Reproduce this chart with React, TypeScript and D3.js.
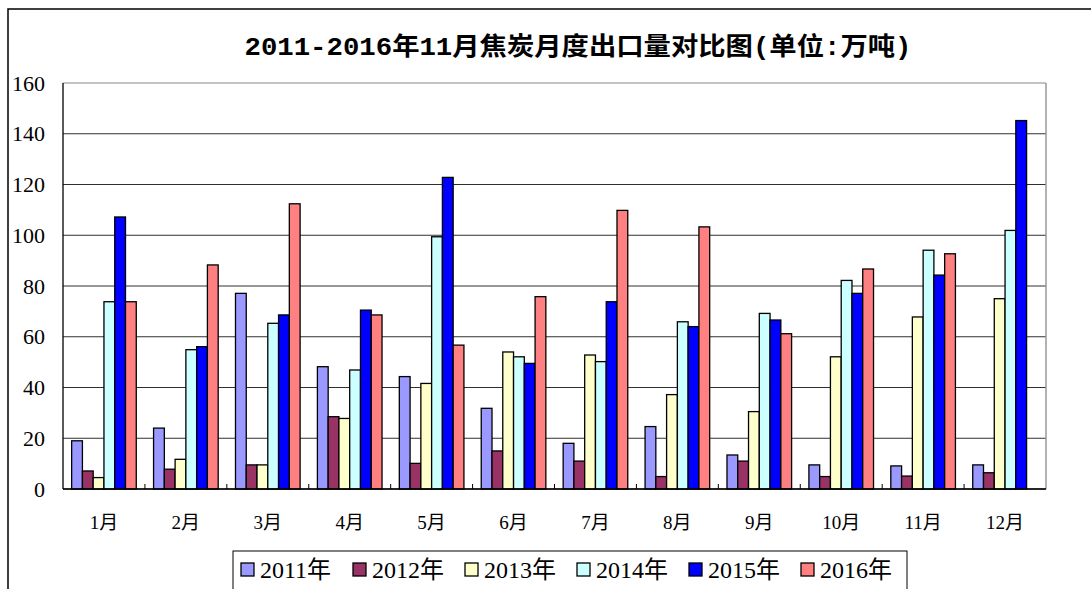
import React from "react";
import * as d3 from "d3";

const months = ["1月", "2月", "3月", "4月", "5月", "6月", "7月", "8月", "9月", "10月", "11月", "12月"];
const seriesNames = ["2011年", "2012年", "2013年", "2014年", "2015年", "2016年"];
const seriesColors = ["#9999FF", "#993366", "#FFFFCC", "#CCFFFF", "#0000FF", "#FF8080"];

const v2011 = [19, 24, 77.1, 48.2, 44.3, 31.8, 18, 24.6, 13.4, 9.5, 9.1, 9.5];
const v2012 = [7.1, 7.8, 9.5, 28.5, 10.1, 15, 11, 4.9, 11, 4.9, 5.1, 6.4];
const v2013 = [4.5, 11.7, 9.5, 27.8, 41.6, 54, 52.8, 37.2, 30.5, 52.1, 67.8, 75];
const v2014 = [73.8, 54.9, 65.3, 46.9, 99.4, 52.1, 50.2, 65.9, 69.2, 82.2, 94.1, 101.9];
const v2015 = [107.2, 56.1, 68.6, 70.5, 122.8, 49.5, 73.8, 64, 66.6, 77.1, 84.3, 145.2];
const v2016: (number | null)[] = [73.8, 88.3, 112.4, 68.6, 56.7, 75.8, 109.8, 103.3, 61.2, 86.7, 92.7, null];
const seriesValues = [v2011, v2012, v2013, v2014, v2015, v2016];

const yTicks = [0, 20, 40, 60, 80, 100, 120, 140, 160];

const title = "2011-2016年11月焦炭月度出口量对比图(单位:万吨)";

export default function App() {
  const left = 63, right = 1046, top = 83, bottom = 489;
  const x = d3.scaleBand<string>().domain(months).range([left, right]).paddingInner(0).paddingOuter(0);
  const gap = 17.3;
  const xs = d3.scaleBand<string>().domain(seriesNames).range([gap / 2, x.bandwidth() - gap / 2]).padding(0);
  const y = d3.scaleLinear().domain([0, 160]).range([bottom, top]);

  const serif = "'Liberation Serif', 'Noto Sans CJK SC', serif";
  const mono = "'Liberation Mono', 'Noto Sans CJK SC', monospace";
  const legendX0 = 241;
  const legendStep = 112;

  return (
    <svg width={1091} height={589} style={{ position: "absolute", left: 0, top: 0, background: "#fff" }}>
      <rect x={0} y={0} width={1091} height={589} fill="#fff" />
      <rect x={8} y={9} width={1100} height={600} fill="#fff" stroke="#000" strokeWidth={1.5} />
      <text x={578} y={55} textAnchor="middle" style={{ fontFamily: mono, fontWeight: "bold", fontSize: 25 }} textLength={667} lengthAdjust="spacingAndGlyphs" fill="#000">
        {title}
      </text>
      {yTicks.map((t) => (
        <line key={"g" + t} x1={left} x2={right} y1={y(t)} y2={y(t)} stroke={t === 160 ? "#888" : "#303030"} strokeWidth={1} />
      ))}
      <line x1={right} x2={right} y1={top} y2={bottom} stroke="#999" strokeWidth={1.5} />
      {yTicks.map((t) => (
        <text key={"t" + t} x={45} y={y(t)} dy="0.35em" textAnchor="end" style={{ fontFamily: serif, fontSize: 22 }} fill="#000">
          {t}
        </text>
      ))}
      {months.map((m, i) => (
        <g key={m}>
          {seriesValues.map((vals, s) => {
            const v = vals[i];
            if (v === null || v === undefined) return null;
            const bx = (x(m) as number) + (xs(seriesNames[s]) as number);
            return (
              <rect key={s} x={bx} y={y(v)} width={xs.bandwidth()} height={y(0) - y(v)} fill={seriesColors[s]} stroke="#000" strokeWidth={1.3} />
            );
          })}
        </g>
      ))}
      <line x1={left} x2={left} y1={top} y2={bottom} stroke="#000" strokeWidth={1.3} />
      <line x1={left} x2={right} y1={bottom} y2={bottom} stroke="#000" strokeWidth={1.3} />
      {months.slice(1).map((m) => (
        <line key={"xt" + m} x1={x(m) as number} x2={x(m) as number} y1={bottom} y2={bottom - 5} stroke="#000" strokeWidth={1} />
      ))}
      {months.map((m) => (
        <text key={"xl" + m} x={(x(m) as number) + x.bandwidth() / 2} y={522} dy="0.35em" textAnchor="middle" style={{ fontFamily: serif, fontSize: 19 }} fill="#000">
          {m}
        </text>
      ))}
      <rect x={233} y={551} width={674} height={50} fill="#fff" stroke="#000" strokeWidth={1} />
      {seriesNames.map((n, s) => (
        <g key={"lg" + n}>
          <rect x={legendX0 + s * legendStep} y={563} width={13} height={13} fill={seriesColors[s]} stroke="#000" strokeWidth={1.3} />
          <text x={legendX0 + s * legendStep + 19} y={570} dy="0.35em" style={{ fontFamily: serif, fontSize: 24 }} fill="#000">
            {n}
          </text>
        </g>
      ))}
    </svg>
  );
}
